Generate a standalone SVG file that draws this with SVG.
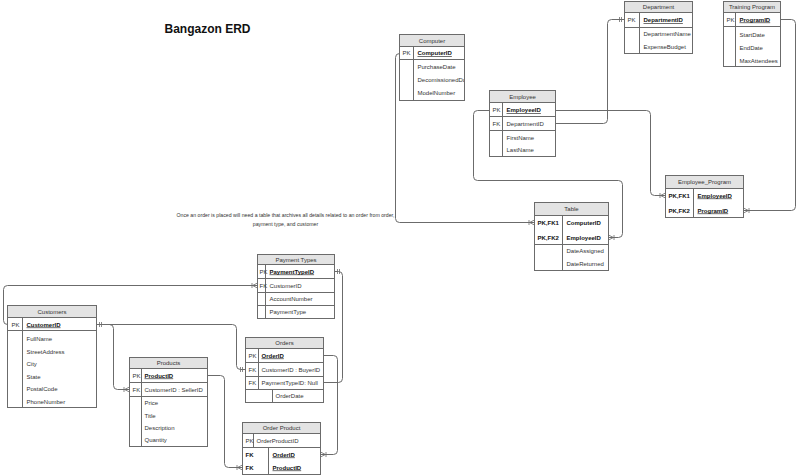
<svg xmlns="http://www.w3.org/2000/svg" width="800" height="476" viewBox="0 0 800 476">
<style>
.bx{fill:#fff;stroke:#6b6b6b;stroke-width:1}
.hd{fill:#e3e3e3;stroke:#6b6b6b;stroke-width:1}
.sl{stroke:#6b6b6b;stroke-width:1}
.t{font-family:"Liberation Sans",Arial,sans-serif;font-size:6px;fill:#333}
.b{font-weight:bold;fill:#111}
.u{text-decoration:underline}
.c{text-anchor:middle}
.ln{fill:none;stroke:#6b6b6b;stroke-width:1}
.title{font-family:"Liberation Sans",Arial,sans-serif;font-size:12px;font-weight:bold;fill:#111;text-anchor:middle}
.note{font-family:"Liberation Sans",Arial,sans-serif;font-size:5.2px;fill:#333;text-anchor:middle}
</style>
<defs>
<marker id="many" markerUnits="userSpaceOnUse" markerWidth="10" markerHeight="10" viewBox="-8 -5 10 10" refX="0" refY="0" orient="auto-start-reverse">
<path d="M-5,0 L0,-2.5 M-5,0 L0,2.5 M-5.5,-2.5 V2.5" fill="none" stroke="#6b6b6b" stroke-width="0.8"/>
</marker>
<marker id="one" markerUnits="userSpaceOnUse" markerWidth="10" markerHeight="10" viewBox="-8 -5 10 10" refX="0" refY="0" orient="auto-start-reverse">
<path d="M-3,-2.5 V2.5 M-5,-2.5 V2.5" fill="none" stroke="#6b6b6b" stroke-width="0.8"/>
</marker>
<clipPath id="clipComp"><rect x="399" y="34" width="64.5" height="66"/></clipPath>
</defs>
<rect x="0" y="0" width="800" height="476" fill="#fff"/>
<g transform="translate(0.5,0.5)">
<text class="title" x="207" y="32">Bangazon ERD</text>
<text class="note" x="285" y="216">Once an order is placed will need a table that archives all details related to an order from order,</text>
<text class="note" x="285" y="225">payment type, and customer</text>

<g id="connectors">
<path class="ln" d="M555 123 H603 Q607 123 607 119 V23 Q607 19 611 19 H624" marker-end="url(#one)"/>
<path class="ln" d="M780 19 H791 Q795 19 795 23 V206 Q795 210 791 210 H743" marker-end="url(#many)"/>
<path class="ln" d="M555 110 H646 Q650 110 650 114 V191 Q650 195 654 195 H665" marker-end="url(#many)"/>
<path class="ln" d="M399 53 H399 Q395 53 395 57 V218 Q395 222 399 222 H534" marker-end="url(#many)"/>
<path class="ln" d="M489 110 H477 Q473 110 473 114 V176 Q473 180 477 180 H618 Q622 180 622 184 V233 Q622 237 618 237 H608" marker-end="url(#many)"/>
<path class="ln" d="M7 324 Q3 324 3 320 V289 Q3 285 7 285 H257" marker-end="url(#many)"/>
<path class="ln" d="M96 324 H109 Q113 324 113 328 V385 Q113 389 117 389 H129" marker-start="url(#one)" marker-end="url(#many)"/>
<path class="ln" d="M96 324 H232 Q236 324 236 328 V365 Q236 369 240 369 H245" marker-end="url(#one)"/>
<path class="ln" d="M334 271 H338 Q342 271 342 275 V378 Q342 382 338 382 H323" marker-start="url(#one)"/>
<path class="ln" d="M323 355 H333 Q337 355 337 359 V450 Q337 454 333 454 H320" marker-end="url(#many)"/>
<path class="ln" d="M207 375 H220 Q224 375 224 379 V463 Q224 467 228 467 H242" marker-end="url(#many)"/>
</g>

<g id="computer">
<rect class="bx" x="399" y="34" width="65" height="66"/>
<rect class="hd" x="399" y="34" width="65" height="12"/>
<line class="sl" x1="399" y1="59" x2="464" y2="59"/>
<line class="sl" x1="413" y1="46" x2="413" y2="100"/>
<text class="t c" x="431.5" y="42">Computer</text>
<text class="t" x="402" y="54.5">PK</text>
<text class="t b u" x="417" y="54.5">ComputerID</text>
<text class="t" x="417" y="68">PurchaseDate</text>
<text class="t" x="417" y="81" clip-path="url(#clipComp)">DecomissionedDate</text>
<text class="t" x="417" y="94">ModelNumber</text>
</g>

<g id="department">
<rect class="bx" x="624" y="1" width="68" height="52"/>
<rect class="hd" x="624" y="1" width="68" height="11"/>
<line class="sl" x1="624" y1="27" x2="692" y2="27"/>
<line class="sl" x1="639" y1="12" x2="639" y2="53"/>
<text class="t c" x="658" y="8.5">Department</text>
<text class="t" x="627" y="21.5">PK</text>
<text class="t b u" x="643" y="21.5">DepartmentID</text>
<text class="t" x="643" y="35">DepartmentName</text>
<text class="t" x="643" y="48">ExpenseBudget</text>
</g>

<g id="training-program">
<rect class="bx" x="723" y="1" width="57" height="65"/>
<rect class="hd" x="723" y="1" width="57" height="11"/>
<line class="sl" x1="723" y1="26" x2="780" y2="26"/>
<line class="sl" x1="735" y1="12" x2="735" y2="66"/>
<text class="t c" x="751.5" y="8.5">Training Program</text>
<text class="t" x="726" y="21">PK</text>
<text class="t b u" x="739" y="21">ProgramID</text>
<text class="t" x="739" y="36">StartDate</text>
<text class="t" x="739" y="49">EndDate</text>
<text class="t" x="739" y="62">MaxAttendees</text>
</g>

<g id="employee">
<rect class="bx" x="489" y="90" width="66" height="66"/>
<rect class="hd" x="489" y="90" width="66" height="12"/>
<line class="sl" x1="489" y1="116" x2="555" y2="116"/>
<line class="sl" x1="489" y1="130" x2="555" y2="130"/>
<line class="sl" x1="502" y1="102" x2="502" y2="156"/>
<text class="t c" x="522" y="98">Employee</text>
<text class="t" x="492" y="111.5">PK</text>
<text class="t b u" x="506" y="111.5">EmployeeID</text>
<text class="t" x="492" y="125">FK</text>
<text class="t" x="506" y="125">DepartmentID</text>
<text class="t" x="506" y="139">FirstName</text>
<text class="t" x="506" y="151">LastName</text>
</g>

<g id="table">
<rect class="bx" x="534" y="202" width="74" height="68"/>
<rect class="hd" x="534" y="202" width="74" height="13"/>
<line class="sl" x1="534" y1="244" x2="608" y2="244"/>
<line class="sl" x1="562" y1="215" x2="562" y2="270"/>
<text class="t c" x="571" y="210.5">Table</text>
<text class="t b" x="537" y="224">PK,FK1</text>
<text class="t b" x="566" y="224">ComputerID</text>
<text class="t b" x="537" y="239">PK,FK2</text>
<text class="t b" x="566" y="239">EmployeeID</text>
<text class="t" x="566" y="252">DateAssigned</text>
<text class="t" x="566" y="265">DateReturned</text>
</g>

<g id="employee-program">
<rect class="bx" x="665" y="175" width="78" height="42"/>
<rect class="hd" x="665" y="175" width="78" height="13"/>
<line class="sl" x1="693" y1="188" x2="693" y2="217"/>
<text class="t c" x="704" y="183.5">Employee_Program</text>
<text class="t b" x="668" y="197">PK,FK1</text>
<text class="t b u" x="697" y="197">EmployeeID</text>
<text class="t b" x="668" y="212">PK,FK2</text>
<text class="t b u" x="697" y="212">ProgramID</text>
</g>

<g id="payment-types">
<rect class="bx" x="257" y="254" width="77" height="64"/>
<rect class="hd" x="257" y="254" width="77" height="10"/>
<line class="sl" x1="257" y1="278" x2="334" y2="278"/>
<line class="sl" x1="257" y1="292" x2="334" y2="292"/>
<line class="sl" x1="257" y1="305" x2="334" y2="305"/>
<line class="sl" x1="265" y1="264" x2="265" y2="318"/>
<text class="t c" x="295.5" y="261">Payment Types</text>
<text class="t" x="259" y="273">PK</text>
<text class="t b u" x="269" y="273">PaymentTypeID</text>
<text class="t" x="259" y="287">FK</text>
<text class="t" x="269" y="287">CustomerID</text>
<text class="t" x="269" y="300.5">AccountNumber</text>
<text class="t" x="269" y="313.5">PaymentType</text>
</g>

<g id="customers">
<rect class="bx" x="7" y="305" width="89" height="102"/>
<rect class="hd" x="7" y="305" width="89" height="12"/>
<line class="sl" x1="7" y1="330" x2="96" y2="330"/>
<line class="sl" x1="22" y1="317" x2="22" y2="407"/>
<text class="t c" x="51.5" y="313">Customers</text>
<text class="t" x="11" y="326">PK</text>
<text class="t b u" x="26" y="326">CustomerID</text>
<text class="t" x="26" y="340">FullName</text>
<text class="t" x="26" y="353">StreetAddress</text>
<text class="t" x="26" y="365">City</text>
<text class="t" x="26" y="378">State</text>
<text class="t" x="26" y="390">PostalCode</text>
<text class="t" x="26" y="403">PhoneNumber</text>
</g>

<g id="products">
<rect class="bx" x="129" y="357" width="78" height="89"/>
<rect class="hd" x="129" y="357" width="78" height="11"/>
<line class="sl" x1="129" y1="382" x2="207" y2="382"/>
<line class="sl" x1="129" y1="396" x2="207" y2="396"/>
<line class="sl" x1="141" y1="368" x2="141" y2="446"/>
<text class="t c" x="168" y="364.5">Products</text>
<text class="t" x="132" y="377">PK</text>
<text class="t b u" x="144" y="377">ProductID</text>
<text class="t" x="132" y="391">FK</text>
<text class="t" x="144" y="391">CustomerID : SellerID</text>
<text class="t" x="144" y="404">Price</text>
<text class="t" x="144" y="417">Title</text>
<text class="t" x="144" y="429">Description</text>
<text class="t" x="144" y="441">Quantity</text>
</g>

<g id="orders">
<rect class="bx" x="245" y="337" width="78" height="65"/>
<rect class="hd" x="245" y="337" width="78" height="11"/>
<line class="sl" x1="245" y1="362" x2="323" y2="362"/>
<line class="sl" x1="245" y1="376" x2="323" y2="376"/>
<line class="sl" x1="245" y1="389" x2="323" y2="389"/>
<line class="sl" x1="258" y1="348" x2="258" y2="389"/>
<line class="sl" x1="272" y1="389" x2="272" y2="402"/>
<text class="t c" x="284" y="344.5">Orders</text>
<text class="t" x="248" y="357">PK</text>
<text class="t b u" x="261" y="357">OrderID</text>
<text class="t" x="248" y="371">FK</text>
<text class="t" x="261" y="371">CustomerID : BuyerID</text>
<text class="t" x="248" y="384.5">FK</text>
<text class="t" x="261" y="384.5">PaymentTypeID: Null</text>
<text class="t" x="275" y="397.5">OrderDate</text>
</g>

<g id="order-product">
<rect class="bx" x="242" y="422" width="78" height="52"/>
<rect class="hd" x="242" y="422" width="78" height="11"/>
<line class="sl" x1="242" y1="447" x2="320" y2="447"/>
<line class="sl" x1="253" y1="433" x2="253" y2="447"/>
<line class="sl" x1="268" y1="447" x2="268" y2="474"/>
<text class="t c" x="281" y="429.5">Order Product</text>
<text class="t" x="245" y="442">PK</text>
<text class="t" x="256" y="442">OrderProductID</text>
<text class="t b" x="245" y="456">FK</text>
<text class="t b u" x="272" y="456">OrderID</text>
<text class="t b" x="245" y="469">FK</text>
<text class="t b u" x="272" y="469">ProductID</text>
</g>
</g>
</svg>
